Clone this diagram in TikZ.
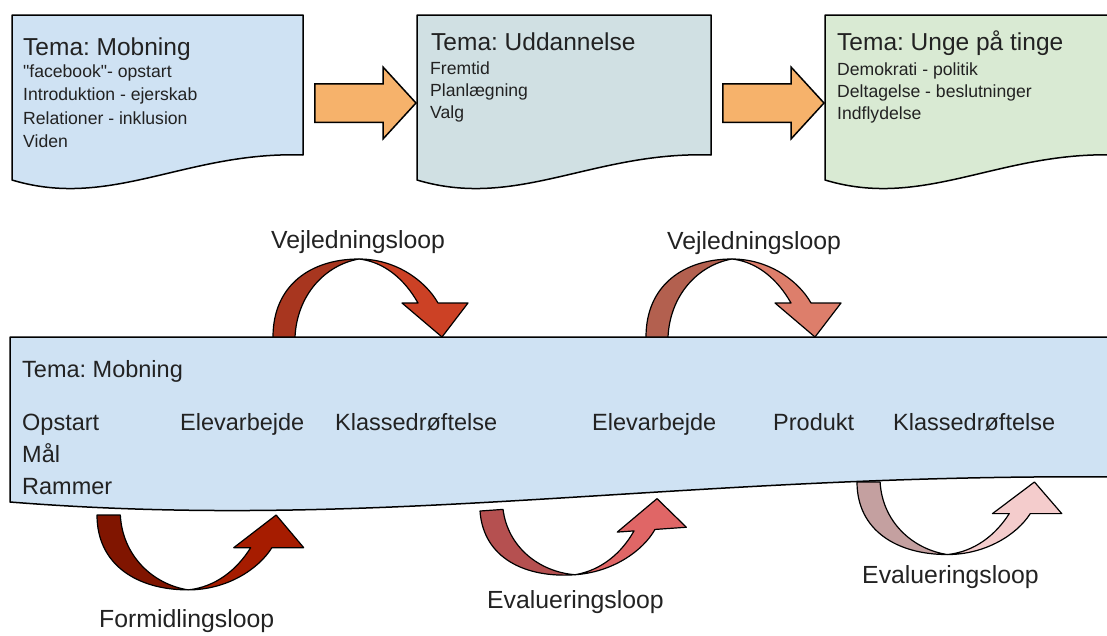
\documentclass[tikz,border=0pt]{standalone}
\usepackage{fontspec}
\setmainfont{Liberation Sans}[Ligatures=TeXOff]
\usetikzlibrary{shapes.arrows}
\definecolor{mobblue}{HTML}{CFE2F3}
\definecolor{uddcyan}{HTML}{D0E0E3}
\definecolor{ungegreen}{HTML}{D9EAD3}
\definecolor{arroworange}{HTML}{F6B26B}
\definecolor{textgrey}{HTML}{222222}
\definecolor{vejBack}{HTML}{A8361F}
\definecolor{vejFront}{HTML}{CC4125}
\definecolor{vejBackLight}{HTML}{B3604F}
\definecolor{vejFrontLight}{HTML}{DD7E6B}
\definecolor{formBack}{HTML}{801500}
\definecolor{formFront}{HTML}{A61C00}
\definecolor{evalBack}{HTML}{B55050}
\definecolor{evalFront}{HTML}{E06666}
\definecolor{evalBackLight}{HTML}{C4A0A0}
\definecolor{evalFrontLight}{HTML}{F4CCCC}
\frenchspacing
\tikzset{
  docline/.style={draw=black, line width=1.5pt, line join=round},
  loopline/.style={draw=black, line width=1.2pt, line join=round},
  blockarrow/.style={single arrow, draw=black, fill=arroworange, line width=1.5pt,
    minimum height=101pt, inner xsep=0pt, inner ysep=18.5pt,
    single arrow head extend=16.5pt, single arrow tip angle=95, anchor=tip},
  temaTitle/.style={font=\fontsize{24.5}{28}\selectfont, text=textgrey, anchor=base west, inner sep=0pt},
  temaItem/.style={font=\fontsize{17.6}{20}\selectfont, text=textgrey, anchor=base west, inner sep=0pt},
  phaseText/.style={font=\fontsize{23.5}{28}\selectfont, text=textgrey, anchor=base west, inner sep=0pt},
  loopLabel/.style={font=\fontsize{24.8}{28}\selectfont, text=textgrey, anchor=base west, inner sep=0pt}
}
% fill, left x, top y, width, height
\newcommand{\docshape}[5]{%
  \filldraw[fill=#1, docline] (#2,#3) -- ({#2+#4},#3) -- ({#2+#4},{#3+#5-25})
    .. controls ({#2+0.6*#4},{#3+#5-29}) and ({#2+0.34*#4},{#3+#5+30}) .. (#2,{#3+#5}) -- cycle;}
% transform, back colour, front colour
\newcommand{\looparrow}[3]{%
  \begin{scope}[#1]
    \filldraw[fill=#2, loopline] (0,0) .. controls (0,-52) and (38,-78) .. (86,-78)
      .. controls (52,-72) and (24,-42) .. (22,0) -- cycle;
    \filldraw[fill=#3, loopline] (86,-78) .. controls (122,-78) and (152,-57) .. (165,-34)
      -- (195,-34) -- (169,0) -- (129,-34) -- (145,-34)
      .. controls (132,-57) and (112,-75) .. (86,-78) -- cycle;
  \end{scope}}

\begin{document}
\begin{tikzpicture}[x=1pt, y=-1pt]
  %\draw[help lines, step=50] (0,0) grid (1107,635);
  \clip (0,0) rectangle (1107,635);

  % themes
  \docshape{mobblue}{12}{15}{291}{165}
  \docshape{uddcyan}{417}{15}{294}{165}
  \docshape{ungegreen}{825}{15}{291}{165}

  \node[temaTitle] (mob-title) at (23,55) {Tema: Mobning};
  \foreach \txt [count=\i] in {"facebook"- opstart, Introduktion - ejerskab, Relationer - inklusion, Viden} {
    \pgfmathsetmacro{\yy}{77+23.5*(\i-1)}
    \node[temaItem] (mob-\i) at (23,\yy) {\txt};
  }
  \node[temaTitle] (udd-title) at (431,50) {Tema: Uddannelse};
  \foreach \txt [count=\i] in {Fremtid, Planlægning, Valg} {
    \pgfmathsetmacro{\yy}{74+22*(\i-1)}
    \node[temaItem] (udd-\i) at (430,\yy) {\txt};
  }
  \node[temaTitle] (unge-title) at (837,50) {Tema: Unge på tinge};
  \foreach \txt [count=\i] in {Demokrati - politik, Deltagelse - beslutninger, Indflydelse} {
    \pgfmathsetmacro{\yy}{75+22*(\i-1)}
    \node[temaItem] (unge-\i) at (837,\yy) {\txt};
  }

  \node[blockarrow] (mob-udd) at (417,103) {};
  \node[blockarrow] (udd-unge) at (825,103) {};

  % course
  \docshape{mobblue}{10}{337}{1110}{165}
  \node[phaseText] (course-title) at (22,377) {Tema: Mobning};
  \foreach \txt/\x [count=\i] in {Opstart/22, Elevarbejde/180, Klassedrøftelse/335,
      Elevarbejde/592, Produkt/773, Klassedrøftelse/893} {
    \node[phaseText] (phase-\i) at (\x,430) {\txt};
  }
  \node[phaseText] (phase-maal) at (22,462) {Mål};
  \node[phaseText] (phase-rammer) at (22,494) {Rammer};

  % loops
  \looparrow{shift={(273,337)}}{vejBack}{vejFront}
  \looparrow{shift={(646,337)}}{vejBackLight}{vejFrontLight}
  \looparrow{shift={(97,515)}, xscale=1.06, yscale=-0.96}{formBack}{formFront}
  \looparrow{shift={(480,511)}, rotate=4, xscale=1.05, yscale=-0.9}{evalBack}{evalFront}
  \looparrow{shift={(857,482)}, xscale=1.05, yscale=-0.93}{evalBackLight}{evalFrontLight}

  \node[loopLabel] (vej-1) at (271,248) {Vejledningsloop};
  \node[loopLabel] (vej-2) at (667,249) {Vejledningsloop};
  \node[loopLabel] (form) at (99,627) {Formidlingsloop};
  \node[loopLabel] (eval-1) at (487,608) {Evalueringsloop};
  \node[loopLabel] (eval-2) at (862,583) {Evalueringsloop};
\end{tikzpicture}
\end{document}
